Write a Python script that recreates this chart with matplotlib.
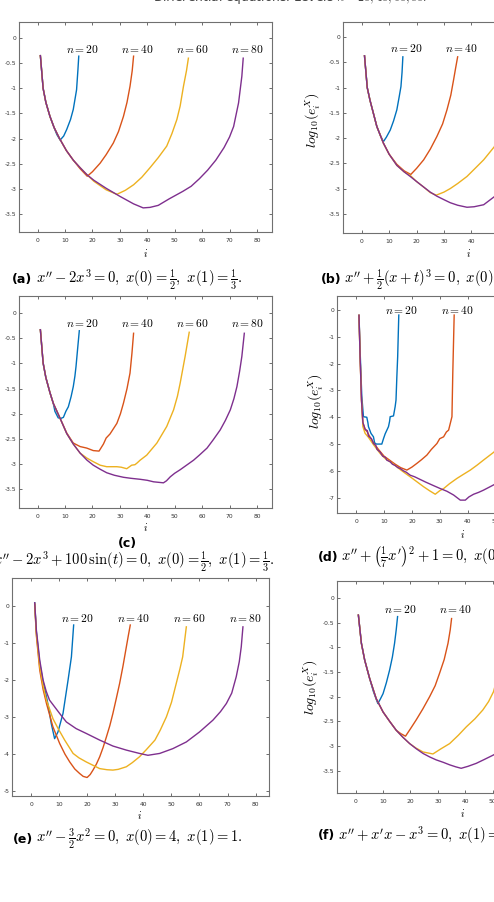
import numpy as np
import matplotlib
matplotlib.use('Agg')
import matplotlib.pyplot as plt
from matplotlib.ticker import FuncFormatter

plt.rcParams['mathtext.fontset'] = 'cm'
plt.rcParams['axes.unicode_minus'] = False
plt.rcParams['font.family'] = ['DejaVu Sans']

## log10 errors, (i, value) pairs per level n
levels = [20, 40, 60, 80]
colors = ['#0072BD', '#D95319', '#EDB120', '#7E2F8E']

a20 = [(1,-0.35),(2,-1.0),(3,-1.28),(4.5,-1.56),(6,-1.78),(7,-1.92),(8.2,-2.03),(9.5,-1.95),(10.6,-1.82),
       (12,-1.62),(13,-1.42),(14.2,-1.03),(14.7,-0.63),(15,-0.36)]
a40 = [(1,-0.35),(2,-1.0),(3,-1.28),(4.5,-1.56),(6,-1.78),(8,-2.0),(10.5,-2.24),(13,-2.43),(15.5,-2.6),
       (18.1,-2.75),(20,-2.66),(22.8,-2.49),(25,-2.32),(27.6,-2.09),(29.5,-1.86),(31.3,-1.56),(32.6,-1.28),
       (33.7,-0.96),(34.5,-0.65),(35,-0.36)]
a60 = [(1,-0.35),(2,-1.0),(3,-1.28),(4.5,-1.56),(6,-1.78),(8,-2.0),(10.5,-2.24),(13,-2.43),(15.5,-2.58),
       (18,-2.72),(20.5,-2.85),(25,-3.02),(28.9,-3.11),(32,-3.03),(35,-2.92),(38,-2.77),(41,-2.58),(44,-2.38),
       (47.1,-2.15),(49,-1.9),(50.8,-1.62),(52,-1.35),(53.2,-0.96),(54.3,-0.65),(55,-0.4)]
a80 = [(1,-0.35),(2,-1.0),(3,-1.28),(4.5,-1.56),(6,-1.78),(8,-2.0),(10.5,-2.24),(13,-2.43),(15.5,-2.58),
       (18,-2.72),(20.5,-2.83),(25,-2.99),(30,-3.15),(35,-3.30),(38.5,-3.38),(41,-3.37),(44,-3.33),(48,-3.2),
       (53,-3.05),(56,-2.95),(59,-2.8),(62,-2.63),(65,-2.43),(68,-2.18),(70,-1.97),(71.5,-1.76),(73.3,-1.29),
       (74.5,-0.76),(75,-0.4)]

b20 = [(1,-0.37),(2,-1.0),(3,-1.25),(4.2,-1.5),(5.5,-1.77),(6.8,-1.95),(7.9,-2.07),(9,-1.98),(10.4,-1.84),
       (11.6,-1.66),(12.8,-1.44),(13.6,-1.2),(14.3,-0.98),(14.7,-0.7),(15,-0.39)]
b40 = [(1,-0.37),(2,-1.0),(3,-1.25),(4.2,-1.5),(5.5,-1.77),(7.9,-2.1),(10,-2.32),(12.8,-2.52),(15.5,-2.65),
       (17.9,-2.72),(20,-2.6),(22.6,-2.43),(25,-2.22),(27.4,-1.97),(29.5,-1.72),(31.1,-1.44),(32.5,-1.15),
       (33.5,-0.85),(34.3,-0.6),(35,-0.39)]
b60 = [(1,-0.37),(2,-1.0),(3,-1.25),(4.2,-1.5),(5.5,-1.77),(7.9,-2.1),(10,-2.32),(12.8,-2.54),(15.5,-2.67),
       (17.7,-2.74),(20,-2.86),(22.6,-2.97),(25,-3.08),(27.2,-3.13),(30,-3.07),(32.3,-3.0),(35,-2.9),
       (38.4,-2.76),(41,-2.62),(44.5,-2.43),(48.4,-2.17),(50.5,-1.85),(52,-1.5),(53.3,-1.1),(54.3,-0.7),(55,-0.4)]
b80 = [(1,-0.37),(2,-1.0),(3,-1.25),(4.2,-1.5),(5.5,-1.77),(7.9,-2.1),(10,-2.32),(12.8,-2.54),(15.5,-2.67),
       (17.7,-2.76),(20,-2.86),(22.6,-2.97),(25,-3.07),(27.4,-3.15),(30,-3.22),(32.3,-3.28),(35,-3.33),
       (38.4,-3.37),(41,-3.36),(44.5,-3.32),(48.4,-3.16),(53,-3.03),(56,-2.93),(59,-2.8),(62,-2.63),(65,-2.43),
       (68,-2.18),(70,-1.97),(71.5,-1.76),(73.3,-1.29),(74.5,-0.76),(75,-0.4)]

c20 = [(1,-0.33),(2,-0.99),(3,-1.28),(4.5,-1.58),(5.7,-1.79),(6.3,-1.95),(7.5,-2.08),(8.5,-2.09),(9.4,-2.07),
       (10.3,-1.95),(11.2,-1.86),(12.2,-1.66),(13,-1.46),(13.6,-1.25),(14,-1.06),(14.6,-0.7),(15.2,-0.35)]
c40 = [(1,-0.33),(2,-0.99),(3,-1.28),(4.5,-1.58),(5.7,-1.79),(8.2,-2.09),(10.6,-2.38),(13,-2.58),(15.5,-2.65),
       (17.9,-2.68),(20.3,-2.73),(22.4,-2.74),(24,-2.6),(25,-2.48),(26.4,-2.40),(28.9,-2.19),(30.2,-2.0),
       (31.3,-1.79),(32.6,-1.5),(33.7,-1.19),(34.4,-0.8),(35,-0.4)]
c60 = [(1,-0.33),(2,-0.99),(3,-1.28),(4.5,-1.58),(5.7,-1.79),(8.2,-2.09),(10.6,-2.39),(13,-2.6),(15.5,-2.78),
       (18,-2.88),(20.3,-2.95),(22.8,-3.02),(25.2,-3.05),(28.9,-3.05),(30.5,-3.06),(32.5,-3.09),(34.3,-3.02),
       (35.5,-3.01),(36.2,-2.98),(37.4,-2.92),(39.8,-2.82),(43.5,-2.58),(47.1,-2.25),(49.6,-1.92),(51,-1.65),
       (52,-1.39),(53.8,-0.86),(55.3,-0.38)]
c80 = [(1,-0.33),(2,-0.99),(3,-1.28),(4.5,-1.58),(5.7,-1.79),(8.2,-2.09),(10.6,-2.39),(13,-2.6),(15.5,-2.78),
       (18,-2.92),(20.3,-3.02),(22.8,-3.1),(25.2,-3.17),(28,-3.22),(31.3,-3.26),(34,-3.28),(37.4,-3.3),(40,-3.32),
       (42.3,-3.35),(45.9,-3.37),(47,-3.33),(48.4,-3.25),(50,-3.18),(52,-3.11),(56.9,-2.92),(59,-2.82),
       (61.8,-2.68),(64,-2.52),(66.6,-2.32),(68.5,-2.13),(70.3,-1.92),(71.6,-1.7),(72.7,-1.46),(73.7,-1.15),
       (74.5,-0.86),(75.4,-0.4)]

d20 = [(1,-0.2),(1.5,-1.8),(2,-3.2),(2.6,-3.98),(3.8,-4.0),(4.2,-4.2),(4.4,-4.35),(5.3,-4.6),(6.2,-4.73),
       (6.6,-4.95),(7.2,-5.0),(8.5,-5.0),(9.2,-5.0),(9.8,-4.8),(10.4,-4.62),(11.6,-4.35),(12,-4.15),(12.2,-3.98),
       (13.4,-3.95),(14,-3.6),(14.3,-3.36),(14.6,-2.5),(14.9,-1.74),(15.3,-0.19)]
d40 = [(1,-0.2),(1.4,-1.74),(1.9,-3.36),(2.4,-4.2),(3.2,-4.45),(4,-4.55),(5,-4.75),(6.2,-4.95),(8,-5.2),
       (10,-5.45),(12,-5.6),(14,-5.75),(16,-5.88),(18.2,-5.97),(20,-5.86),(21.8,-5.72),(23.5,-5.58),(25.4,-5.41),
       (27,-5.2),(29,-4.98),(30,-4.8),(31.4,-4.73),(32.4,-4.55),(33.2,-4.48),(34.4,-3.98),(34.7,-2.36),(35.2,-0.19)]
d60 = [(1,-0.2),(1.4,-1.74),(1.9,-3.36),(2.4,-4.35),(3.2,-4.6),(4.4,-4.75),(6.2,-5.02),(8.6,-5.35),(10.5,-5.55),
       (12.2,-5.66),(14,-5.8),(15.8,-5.95),(17.5,-6.08),(19.4,-6.22),(22,-6.42),(24.2,-6.59),(26.5,-6.75),
       (28.4,-6.87),(30,-6.74),(31.4,-6.66),(33.5,-6.48),(36.2,-6.28),(38.5,-6.13),(41,-5.97),(43.5,-5.78),
       (45.7,-5.6),(49.6,-5.29),(51.5,-4.8),(53,-4.0),(54,-3.0),(54.6,-1.6),(55,-0.2)]
d80 = [(1,-0.2),(1.4,-1.74),(1.9,-3.36),(2.4,-4.2),(3.2,-4.45),(4,-4.5),(4.4,-4.7),(5.5,-4.8),(6.2,-4.98),
       (7,-5.05),(7.5,-5.2),(8.6,-5.3),(9.5,-5.45),(10.5,-5.5),(11,-5.6),(12.2,-5.66),(13,-5.75),(14,-5.8),
       (15,-5.88),(15.8,-5.91),(17,-6.0),(18,-6.05),(19.4,-6.16),(21,-6.22),(23,-6.32),(25,-6.42),(27.8,-6.55),
       (30,-6.65),(32.6,-6.76),(35,-6.9),(37.4,-7.09),(39.2,-7.09),(40.5,-6.97),(42.2,-6.87),(44,-6.8),
       (45.7,-6.72),(49.6,-6.51),(53,-6.25),(56,-6.0),(60,-5.6),(64,-5.1),(67,-4.6),(70,-4.0),(72,-3.5),
       (73.5,-2.8),(74.5,-1.5),(75,-0.2)]

e20 = [(1.2,0.09),(1.8,-0.7),(3,-1.55),(4.2,-2.05),(5.4,-2.45),(6.3,-2.8),(7.1,-3.17),(8.3,-3.58),(9.5,-3.40),
       (10.4,-3.15),(11.3,-2.9),(12.2,-2.45),(13.1,-2.0),(14.3,-1.37),(15.1,-0.51)]
e40 = [(1.2,0.05),(1.8,-0.8),(3,-1.73),(4.2,-2.25),(5.4,-2.63),(7.7,-3.26),(10.1,-3.71),(12,-4.0),(13.7,-4.21),
       (15.5,-4.4),(17.2,-4.52),(18.5,-4.6),(19.9,-4.63),(21,-4.55),(22,-4.43),(23.2,-4.27),(24.4,-4.07),
       (25.6,-3.82),(26.8,-3.53),(28,-3.23),(29.1,-2.9),(30.3,-2.5),(31.5,-2.09),(32.7,-1.62),(33.9,-1.10),
       (34.6,-0.8),(35.3,-0.51)]
e60 = [(1.2,0.07),(1.8,-0.75),(3,-1.64),(4.2,-2.15),(5.4,-2.54),(7.7,-3.04),(9.5,-3.3),(11.9,-3.62),
       (14.9,-3.98),(17,-4.1),(19.6,-4.21),(22,-4.3),(24.4,-4.39),(27,-4.42),(29.1,-4.43),(31,-4.41),(33.9,-4.34),
       (36,-4.23),(38.6,-4.07),(41,-3.88),(44.1,-3.62),(46,-3.35),(48.2,-2.99),(50,-2.6),(51.7,-2.09),(53,-1.7),
       (54,-1.37),(55.3,-0.56)]
e80 = [(1.2,0.09),(1.8,-0.65),(3,-1.46),(4.2,-2.0),(5.3,-2.3),(6.5,-2.54),(8.3,-2.72),(10.1,-2.9),(12.5,-3.13),
       (16,-3.31),(19.6,-3.44),(24.4,-3.62),(29.1,-3.78),(33.9,-3.89),(38.6,-3.98),(41.6,-4.03),(45.8,-3.98),
       (50.5,-3.85),(55.3,-3.67),(60,-3.40),(64.8,-3.08),(67.5,-2.85),(69.6,-2.63),(71.5,-2.35),(73.1,-1.91),
       (74.2,-1.5),(74.9,-1.1),(75.5,-0.56)]

f20 = [(1,-0.35),(2.1,-0.92),(3.3,-1.26),(5.1,-1.63),(6.5,-1.9),(8.1,-2.14),(9,-2.05),(10,-1.94),(11.2,-1.72),
       (12.4,-1.46),(13.4,-1.2),(14.2,-0.92),(14.8,-0.65),(15.3,-0.38)]
f40 = [(1,-0.35),(2.1,-0.92),(3.3,-1.26),(5.1,-1.63),(7.5,-2.04),(10,-2.31),(12.4,-2.5),(14.8,-2.68),
       (16.5,-2.75),(18.2,-2.80),(20,-2.65),(22.1,-2.47),(24.5,-2.25),(27,-2.0),(29,-1.78),(30.6,-1.53),
       (32.3,-1.25),(33.7,-0.92),(34.5,-0.65),(35,-0.42)]
f60 = [(1,-0.35),(2.1,-0.92),(3.3,-1.26),(5.1,-1.63),(7.5,-2.04),(10,-2.31),(12.4,-2.5),(14.8,-2.68),
       (17.2,-2.82),(19.7,-2.95),(22,-3.04),(24.6,-3.12),(28.2,-3.16),(31,-3.06),(34.3,-2.95),(37.5,-2.78),
       (40.4,-2.61),(43.5,-2.45),(46.4,-2.27),(48.5,-2.1),(50.3,-1.90),(52,-1.55),(53.5,-1.1),(54.5,-0.7),(55,-0.4)]
f80 = [(1,-0.35),(2.1,-0.92),(3.3,-1.26),(5.1,-1.63),(7.5,-2.04),(10,-2.31),(12.4,-2.5),(14.8,-2.68),
       (17.2,-2.82),(19.7,-2.95),(22,-3.05),(24.6,-3.15),(27,-3.22),(29.4,-3.28),(32,-3.33),(34.3,-3.38),
       (36.5,-3.42),(38.5,-3.45),(41,-3.41),(44,-3.35),(47,-3.27),(50.3,-3.18),(54,-3.05),(58,-2.88),(62,-2.65),
       (65,-2.43),(68,-2.15),(70,-1.9),(71.6,-1.65),(73,-1.3),(74.2,-0.9),(75,-0.4)]

captions = {
    'a': r"$x'' - 2x^3 = 0,\ x(0) = \frac{1}{2},\ x(1) = \frac{1}{3}.$",
    'b': r"$x'' + \frac{1}{2}(x+t)^3 = 0,\ x(0) = 0,\ x(1) = 0.$",
    'c': r"$x'' - 2x^3 + 100\,\sin(t) = 0,\ x(0) = \frac{1}{2},\ x(1) = \frac{1}{3}.$",
    'd': r"$x'' + \left(\frac{1}{7}x'\right)^2 + 1 = 0,\ x(0) = 0,\ x(1) = 0.$",
    'e': r"$x'' - \frac{3}{2}x^2 = 0,\ x(0) = 4,\ x(1) = 1.$",
    'f': r"$x'' + x'x - x^3 = 0,\ x(1) = 0,\ x(2) = 0.$",
}

W, H = 494, 902
fig = plt.figure(figsize=(W/100, H/100), dpi=100)


def add_ax(l, t, r, b):
    return fig.add_axes([l/W, 1 - b/H, (r - l)/W, (b - t)/H])


def fx(x):
    return x / W


def fy(y):
    return 1 - y / H


def setup(ax, series, xlim, ylim, yticks, label_y):
    for n, s, c in zip(levels, series, colors):
        s = np.array(s)
        ax.plot(s[:, 0], s[:, 1], color=c, lw=1.0, solid_joinstyle='round')
        ax.text(n - 3.6, label_y, r'$n = %d$' % n, ha='center', va='center', fontsize=8.3)
    ax.set_xlim(*xlim)
    ax.set_ylim(*ylim)
    ax.set_xticks(np.arange(0, 81, 10))
    ax.set_yticks(yticks)
    ax.yaxis.set_major_formatter(FuncFormatter(lambda v, p: '%g' % v))
    ax.tick_params(direction='in', top=True, right=True, length=2.5, width=0.6,
                   color='#555555', labelsize=4.3, labelcolor='#333333')
    ax.tick_params(axis='x', pad=4)
    ax.tick_params(axis='y', pad=2)
    for sp in ax.spines.values():
        sp.set_color('#707070')
        sp.set_linewidth(0.8)


half = np.arange(-3.5, 0.01, 0.5)

ax_a = add_ax(19, 22, 272, 232)
setup(ax_a, [a20, a40, a60, a80], (-6.8, 85.5), (-3.86, 0.32), half, -0.22)
ax_b = add_ax(343, 22, 596, 233)
setup(ax_b, [b20, b40, b60, b80], (-6.85, 85.5), (-3.88, 0.30), half, -0.23)
ax_c = add_ax(19, 296, 272, 508)
setup(ax_c, [c20, c40, c60, c80], (-6.8, 85.5), (-3.87, 0.34), half, -0.2)
ax_d = add_ax(337, 296, 590, 513)
setup(ax_d, [d20, d40, d60, d80], (-6.9, 84.0), (-7.57, 0.52), np.arange(-7, 0.5, 1), -0.03)
ax_e = add_ax(12, 578, 269, 796)
setup(ax_e, [e20, e40, e60, e80], (-6.9, 84.8), (-5.13, 0.76), np.arange(-5, 0.5, 1), -0.33)
ax_f = add_ax(337, 581, 590, 793)
setup(ax_f, [f20, f40, f60, f80], (-6.8, 85.5), (-3.95, 0.34), half, -0.23)

# x labels
for x, y in [(146, 253), (469, 253), (146, 527), (463, 534), (140, 815), (463, 813)]:
    fig.text(fx(x), fy(y), r'$i$', ha='center', va='center', fontsize=7.5)

# y labels on right column
for x, y in [(313, 120), (316, 401), (311, 687)]:
    fig.text(fx(x), fy(y), r'$log_{10}(e_i^X)$', ha='center', va='center', rotation=90, fontsize=10)

# captions
cap_font = dict(fontsize=9, fontweight='bold', va='center')
math_font = dict(fontsize=10.5, va='center')
fig.text(fx(12), fy(280), '(a)', ha='left', **cap_font)
fig.text(fx(36), fy(280), captions['a'], ha='left', **math_font)
fig.text(fx(321), fy(280), '(b)', ha='left', **cap_font)
fig.text(fx(344), fy(280), captions['b'], ha='left', **math_font)
fig.text(fx(127), fy(543), '(c)', ha='center', **cap_font)
fig.text(fx(274), fy(562), captions['c'], ha='right', **math_font)
fig.text(fx(318), fy(557), '(d)', ha='left', **cap_font)
fig.text(fx(341), fy(557), captions['d'], ha='left', **math_font)
fig.text(fx(13), fy(839), '(e)', ha='left', **cap_font)
fig.text(fx(36), fy(839), captions['e'], ha='left', **math_font)
fig.text(fx(318), fy(835), '(f)', ha='left', **cap_font)
fig.text(fx(338), fy(835), captions['f'], ha='left', **math_font)

# page header, mostly cut off at the top
fig.text(fx(153), fy(1.5), r'Differential equations. Levels $n = 20, 40, 60, 80.$',
         ha='left', va='baseline', fontsize=8.8, color='#444444')

fig.savefig('out.png', dpi=100)
